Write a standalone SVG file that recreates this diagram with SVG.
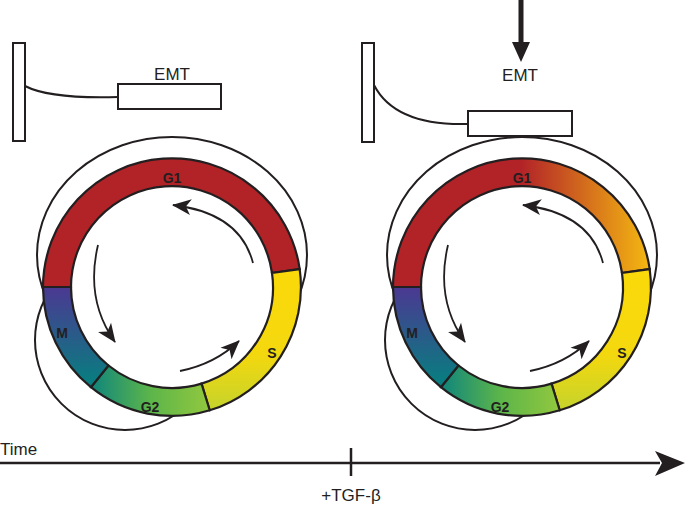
<svg xmlns="http://www.w3.org/2000/svg" width="685" height="514" viewBox="0 0 685 514">
<style>
.thin{fill:none;stroke:#231f20;stroke-width:2}
.seg{stroke:#231f20;stroke-width:2.2}
.box{fill:#fff;stroke:#231f20;stroke-width:2}
.lbl{font-family:"Liberation Sans",Arial,sans-serif;font-weight:bold;font-size:14px;fill:#231f20;text-anchor:middle}
.txt{font-family:"Liberation Sans",Arial,sans-serif;font-size:17px;fill:#231f20}
.arr{fill:none;stroke:#231f20;stroke-width:1.8;marker-end:url(#ah)}
</style>
<defs>
<marker id="ah" markerUnits="userSpaceOnUse" markerWidth="20" markerHeight="20" viewBox="0 0 20 20" refX="18" refY="10" orient="auto">
<path d="M0,2 L19,10 L0,18 L5,10 Z" fill="#231f20"/>
</marker>
<linearGradient id="gS" x1="0" y1="0" x2="0" y2="1"><stop offset="0" stop-color="#fbd90a"/><stop offset="0.6" stop-color="#f4d80e"/><stop offset="1" stop-color="#c5d32c"/></linearGradient>
<linearGradient id="gG2" x1="0" y1="0" x2="1" y2="0"><stop offset="0" stop-color="#0f857c"/><stop offset="0.5" stop-color="#5cb54a"/><stop offset="1" stop-color="#92c83e"/></linearGradient>
<linearGradient id="gM" x1="0" y1="0" x2="0" y2="1"><stop offset="0" stop-color="#4b3892"/><stop offset="1" stop-color="#05817f"/></linearGradient>
<linearGradient id="gG1b" x1="0" y1="0" x2="1" y2="0"><stop offset="0" stop-color="#b22328"/><stop offset="0.5" stop-color="#b22328"/><stop offset="1" stop-color="#f5b811"/></linearGradient>
</defs>

<g id="cycle-left">
<ellipse class="thin" cx="172" cy="255" rx="135" ry="118"/>
<circle class="thin" cx="125" cy="340" r="90"/>
<circle cx="172" cy="287" r="101" fill="#fff"/>
<path class="seg" fill="#b22328" d="M43,287 A129,129 0 0 1 299.7,269.1 L272,273 A101,101 0 0 0 71,287 Z"/>
<path class="seg" fill="url(#gS)" d="M299.7,269.1 A129,129 0 0 1 209.7,410.3 L201.5,383.6 A101,101 0 0 0 272,273 Z"/>
<path class="seg" fill="url(#gG2)" d="M209.7,410.3 A129,129 0 0 1 90.9,387.2 L108.5,365.5 A101,101 0 0 0 201.5,383.6 Z"/>
<path class="seg" fill="url(#gM)" d="M90.9,387.2 A129,129 0 0 1 43,287 L71,287 A101,101 0 0 0 108.5,365.5 Z"/>
<text class="lbl" x="172" y="183">G1</text>
<text class="lbl" x="272" y="358">S</text>
<text class="lbl" x="62" y="338">M</text>
<text class="lbl" x="150" y="412">G2</text>
</g>
<g id="arrows-left">
<path class="arr" d="M253,263 Q240,213 173,205"/>
<path class="arr" d="M98,245 Q85,300 115,342"/>
<path class="arr" d="M180,371 Q215,364 239,341"/>
</g>

<g id="cycle-right">
<ellipse class="thin" cx="522" cy="255" rx="135" ry="118"/>
<circle class="thin" cx="475" cy="340" r="90"/>
<circle cx="522" cy="287" r="101" fill="#fff"/>
<path class="seg" fill="url(#gG1b)" d="M393,287 A129,129 0 0 1 649.7,269.1 L622,273 A101,101 0 0 0 421,287 Z"/>
<path class="seg" fill="url(#gS)" d="M649.7,269.1 A129,129 0 0 1 559.7,410.3 L551.5,383.6 A101,101 0 0 0 622,273 Z"/>
<path class="seg" fill="url(#gG2)" d="M559.7,410.3 A129,129 0 0 1 440.9,387.2 L458.5,365.5 A101,101 0 0 0 551.5,383.6 Z"/>
<path class="seg" fill="url(#gM)" d="M440.9,387.2 A129,129 0 0 1 393,287 L421,287 A101,101 0 0 0 458.5,365.5 Z"/>
<text class="lbl" x="522" y="183">G1</text>
<text class="lbl" x="622" y="358">S</text>
<text class="lbl" x="412" y="338">M</text>
<text class="lbl" x="500" y="412">G2</text>
</g>
<g id="arrows-right">
<path class="arr" d="M603,263 Q590,213 523,205"/>
<path class="arr" d="M448,245 Q435,300 465,342"/>
<path class="arr" d="M530,371 Q565,364 589,341"/>
</g>

<g id="emt-left">
<rect class="box" x="13" y="43" width="12" height="98"/>
<path class="thin" d="M25,86 Q50,99 118,97"/>
<rect class="box" x="118" y="84" width="103" height="25"/>
<text class="txt" x="172" y="80" text-anchor="middle">EMT</text>
</g>
<g id="emt-right">
<rect class="box" x="362" y="43" width="12" height="99"/>
<path class="thin" d="M374,85 Q395,126 468,124"/>
<rect class="box" x="468" y="111" width="104" height="25"/>
<text class="txt" x="520" y="81" text-anchor="middle">EMT</text>
<path d="M518.5,0 L523.5,0 L523.5,42 L530,42 L521,62 L512,42 L518.5,42 Z" fill="#231f20"/>
</g>

<g id="timeline">
<line x1="0" y1="463" x2="660" y2="463" stroke="#231f20" stroke-width="2.5"/>
<path d="M655,451 L685,463 L655,476 L662,463 Z" fill="#231f20"/>
<line x1="351" y1="448" x2="351" y2="476" stroke="#231f20" stroke-width="2.5"/>
<text class="txt" x="0" y="455" font-size="18">Time</text>
<text class="txt" x="351" y="501" text-anchor="middle" font-size="18">+TGF-β</text>
</g>
</svg>
